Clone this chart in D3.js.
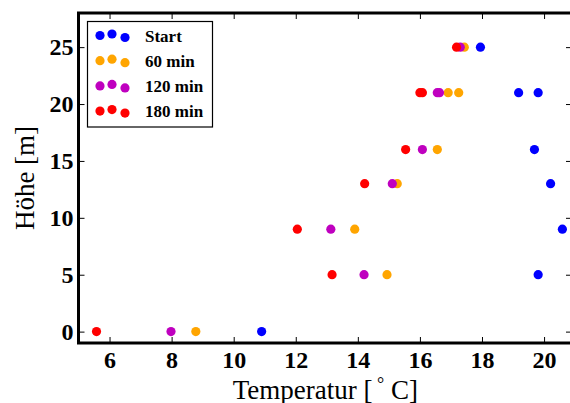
<!DOCTYPE html>
<html><head><meta charset="utf-8">
<script src="https://cdn.jsdelivr.net/npm/d3@7"></script>
<style>body{margin:0;background:#fff}svg{display:block}</style>
</head><body>
<svg id="c" width="570" height="403"></svg>
<script>
const heights = [0, 5, 9, 13, 16, 21, 21, 25];
const seriesNames = ["Start", "60 min", "120 min", "180 min"];
const seriesColors = ["#0000ff", "#ffa500", "#bf00bf", "#ff0000"];
const startTemp = [10.9, 19.81, 20.59, 20.21, 19.69, 19.18, 19.81, 17.95];
const min60Temp = [8.78, 14.94, 13.9, 15.27, 16.56, 16.91, 17.25, 17.43];
const min120Temp = [7.98, 14.2, 13.13, 15.11, 16.08, 16.56, 16.63, 17.3];
const min180Temp = [5.58, 13.17, 12.05, 14.22, 15.54, 16.0, 16.08, 17.18];
const xTicks = [6, 8, 10, 12, 14, 16, 18, 20];
const yTicks = [0, 5, 10, 15, 20, 25];
const series = [startTemp, min60Temp, min120Temp, min180Temp];

const svg = d3.select("#c");
const L = 78.5, R = 572, T = 13, B = 343;
const x = d3.scaleLinear().domain([5, 20.9]).range([L, R]);
const y = d3.scaleLinear().domain([-1, 28]).range([B, T]);
const serif = "'Liberation Serif','Times New Roman',serif";

// points
series.forEach((vals, si) => {
  svg.append("g").selectAll("circle").data(vals).join("circle")
    .attr("cx", d => x(d)).attr("cy", (d, i) => y(heights[i]))
    .attr("r", 4.6).attr("fill", seriesColors[si]);
});

// axes
function styleAxis(g) {
  g.select(".domain").remove();
  g.selectAll(".tick line").attr("stroke", "#000").attr("stroke-width", 1);
  g.selectAll(".tick text").attr("font-family", serif).attr("font-weight", "bold")
    .attr("font-size", 24).attr("fill", "#000");
}
const xb = svg.append("g").attr("transform", `translate(0,${B})`)
  .call(d3.axisBottom(x).tickValues(xTicks).tickSize(-6).tickPadding(8).tickFormat(d3.format("d")));
styleAxis(xb);
const xt = svg.append("g").attr("transform", `translate(0,${T})`)
  .call(d3.axisTop(x).tickValues(xTicks).tickSize(-6).tickFormat(""));
styleAxis(xt);
const yl = svg.append("g").attr("transform", `translate(${L},0)`)
  .call(d3.axisLeft(y).tickValues(yTicks).tickSize(-6).tickPadding(5).tickFormat(d3.format("d")));
styleAxis(yl);
const yr = svg.append("g").attr("transform", `translate(${R},0)`)
  .call(d3.axisRight(y).tickValues(yTicks).tickSize(-6).tickFormat(""));
styleAxis(yr);

// frame
svg.append("rect").attr("x", L).attr("y", T).attr("width", R - L).attr("height", B - T)
  .attr("fill", "none").attr("stroke", "#000").attr("stroke-width", 3);

// axis labels
const xl = svg.append("text").attr("x", (L + R) / 2).attr("y", 399).attr("text-anchor", "middle")
  .attr("font-family", serif).attr("font-size", 27).attr("fill", "#000");
xl.append("tspan").text("Temperatur [");
xl.append("tspan").attr("dy", -9).attr("font-size", 18).text(" °");
xl.append("tspan").attr("dy", 9).text(" C]");

svg.append("text").attr("transform", `translate(34,${(T + B) / 2}) rotate(-90)`)
  .attr("text-anchor", "middle").attr("font-family", serif).attr("font-size", 27)
  .attr("fill", "#000").text("Höhe [m]");

// legend
const lg = svg.append("g");
lg.append("rect").attr("x", 87.5).attr("y", 21.5).attr("width", 125).attr("height", 105.5)
  .attr("fill", "#fff").attr("stroke", "#000").attr("stroke-width", 1.2);
const mx = [100, 112, 125], mdy = [0, -1.5, 2];
seriesNames.forEach((name, i) => {
  const cy = 35.5 + i * 25.2;
  mx.forEach((px, k) => {
    lg.append("circle").attr("cx", px).attr("cy", cy + mdy[k]).attr("r", 4.6).attr("fill", seriesColors[i]);
  });
  lg.append("text").attr("x", 145).attr("y", cy + 6).attr("font-family", serif)
    .attr("font-weight", "bold").attr("font-size", 17).attr("fill", "#000").text(name);
});
</script>
</body></html>
